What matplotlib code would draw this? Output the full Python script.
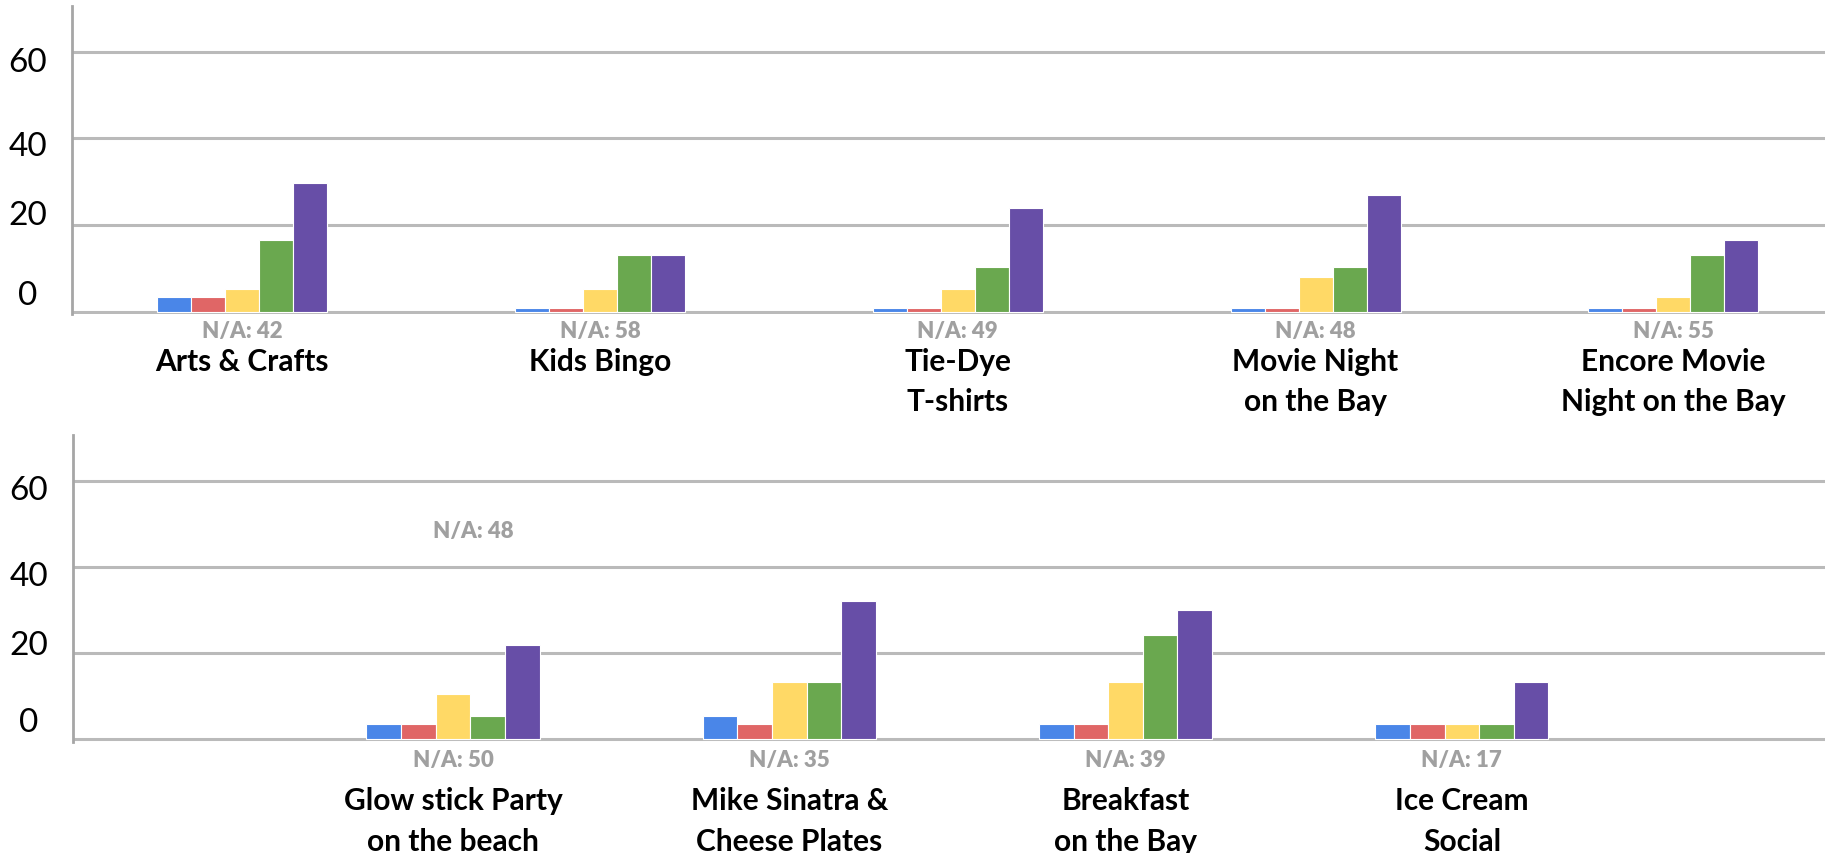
import matplotlib
matplotlib.use("Agg")
import matplotlib.pyplot as plt
from matplotlib.transforms import blended_transform_factory, offset_copy

# ---------------- data ----------------
series_colors = ["#4a86e8", "#e06666", "#ffd966", "#6aa84f", "#674ea7"]

top_categories = ["Arts & Crafts", "Kids Bingo", "Tie-Dye\nT-shirts",
                  "Movie Night\non the Bay", "Encore Movie\nNight on the Bay"]
top_na = ["N/A: 42", "N/A: 58", "N/A: 49", "N/A: 48", "N/A: 55"]
top_blue = [3.4, 0.85, 0.85, 0.85, 0.85]
top_red = [3.4, 0.85, 0.85, 0.85, 0.85]
top_yellow = [5.2, 5.2, 5.2, 8.0, 3.4]
top_green = [16.6, 13.1, 10.3, 10.3, 13.1]
top_purple = [29.7, 13.1, 24.0, 27.0, 16.6]

bot_categories = ["Glow stick Party\non the beach", "Mike Sinatra &\nCheese Plates",
                  "Breakfast\non the Bay", "Ice Cream\nSocial"]
bot_na = ["N/A: 50", "N/A: 35", "N/A: 39", "N/A: 17"]
bot_blue = [3.5, 5.4, 3.5, 3.5]
bot_red = [3.5, 3.5, 3.5, 3.5]
bot_yellow = [10.5, 13.3, 13.3, 3.5]
bot_green = [5.4, 13.3, 24.2, 3.5]
bot_purple = [21.9, 32.1, 30.0, 13.3]
floating_na = "N/A: 48"
floating_na_value = 48.4

y_ticks = [0, 20, 40, 60]
y_tick_labels = ["0", "20", "40", "60"]

# ---------------- styling ----------------
W, H, DPI = 1825, 854, 100
GRID = "#bababa"
AXIS = "#a6a6a6"
NA_COLOR = "#a0a0a0"
FONT = "Lato"

fig = plt.figure(figsize=(W / DPI, H / DPI), dpi=DPI)


def make_axes(left_px, top_px, base_px, ymin, ymax):
    ppu = (base_px - top_px) / ymax
    bottom_px = base_px + (-ymin) * ppu
    ax = fig.add_axes([left_px / W, 1 - bottom_px / H,
                       (W - left_px) / W, (bottom_px - top_px) / H])
    return ax


def style_axes(ax, label_offsets):
    for s in ["top", "right", "bottom"]:
        ax.spines[s].set_visible(False)
    ax.spines["left"].set_color(AXIS)
    ax.spines["left"].set_linewidth(2)
    ax.set_xticks([])
    ax.set_yticks([])
    for v in y_ticks:
        ax.axhline(v, color=GRID, lw=2.2, zorder=0)
    tr = blended_transform_factory(ax.transAxes, ax.transData)
    for v, lab, off in zip(y_ticks, y_tick_labels, label_offsets):
        t = offset_copy(tr, fig=fig, x=-44, y=off, units="dots")
        ax.text(0, v, lab, transform=t, ha="center", va="center",
                fontsize=24, family=FONT, color="black")


def draw_group(ax, n, series, bw):
    for k, vals in enumerate(series):
        xs = [i + (k - 2) * bw for i in range(n)]
        ax.bar(xs, vals, width=bw, color=series_colors[k],
               edgecolor="white", linewidth=0.8, zorder=3)


def draw_labels(ax, cats, nas, na_dy, cat_dy):
    for i, (c, na) in enumerate(zip(cats, nas)):
        t1 = offset_copy(ax.transData, fig=fig, x=0, y=-na_dy, units="dots")
        ax.text(i, 0, na, transform=t1, ha="center", va="center",
                fontsize=16, fontweight="heavy", family=FONT, color=NA_COLOR)
        t2 = offset_copy(ax.transData, fig=fig, x=0, y=-cat_dy, units="dots")
        ax.text(i, 0, c, transform=t2, ha="center", va="top",
                fontsize=21.5, fontweight="bold", family=FONT, color="black",
                linespacing=1.55)


YMIN, YMAX = -0.6, 70.6

# top panel
ax1 = make_axes(72, 7, 312.7, YMIN, YMAX)
ax1.set_ylim(YMIN, YMAX)
ax1.set_xlim(-0.476, 4.424)
style_axes(ax1, [17, 10, -8, -10])
draw_group(ax1, 5, [top_blue, top_red, top_yellow, top_green, top_purple], 0.095)
draw_labels(ax1, top_categories, top_na, 19, 35)

# bottom panel
ax2 = make_axes(73, 436, 740, YMIN, YMAX)
ax2.set_ylim(YMIN, YMAX)
ax2.set_xlim(-1.13, 4.08)
style_axes(ax2, [17, 8, -9, -9])
draw_group(ax2, 4, [bot_blue, bot_red, bot_yellow, bot_green, bot_purple], 0.103)
draw_labels(ax2, bot_categories, bot_na, 21, 47)
ax2.text(0.06, floating_na_value, floating_na, ha="center", va="center",
         fontsize=16, fontweight="heavy", family=FONT, color=NA_COLOR)

for ax in (ax1, ax2):
    for t in ax.texts:
        t.set_clip_on(False)

fig.savefig("out.png", dpi=DPI)
